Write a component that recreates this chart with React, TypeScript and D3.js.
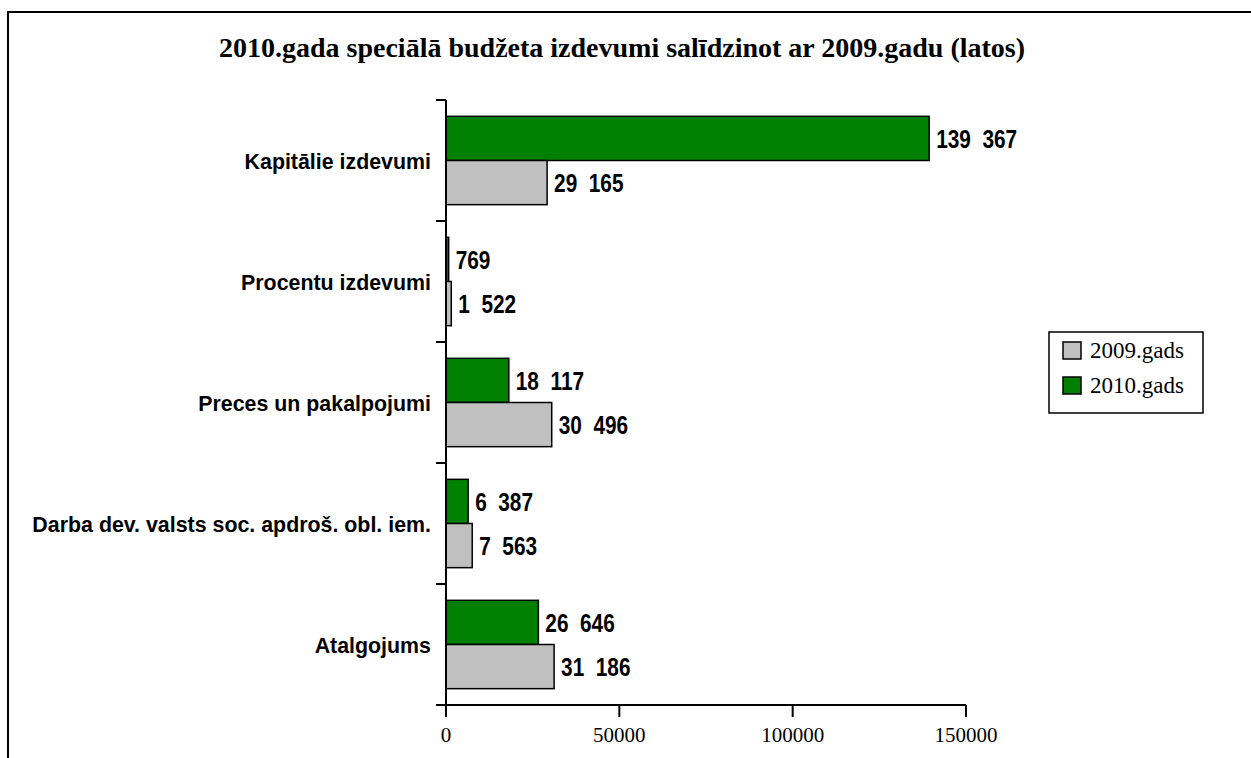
import React, { useEffect, useRef } from "react";
import * as d3 from "d3";

const categories = [
  "Kapitālie izdevumi",
  "Procentu izdevumi",
  "Preces un pakalpojumi",
  "Darba dev. valsts soc. apdroš. obl. iem.",
  "Atalgojums",
];
const series = ["2010.gads", "2009.gads"];
const values2010 = [139367, 769, 18117, 6387, 26646];
const values2009 = [29165, 1522, 30496, 7563, 31186];
const xTicks = [0, 50000, 100000, 150000];
const legendOrder = ["2009.gads", "2010.gads"];
const colors: Record<string, string> = { "2009.gads": "#c0c0c0", "2010.gads": "#008000" };

const W = 1251;
const H = 758;
const serif = "'Liberation Serif', 'Times New Roman', serif";
const sans = "'Liberation Sans', Arial, sans-serif";

export default function App() {
  const svgRef = useRef<SVGSVGElement>(null);

  useEffect(() => {
    const svg = d3.select(svgRef.current);
    svg.selectAll("*").remove();

    // frame
    svg.append("rect")
      .attr("x", 8).attr("y", 12).attr("width", 1300).attr("height", 800)
      .attr("fill", "white").attr("stroke", "black").attr("stroke-width", 2);

    svg.append("text")
      .attr("x", 622).attr("y", 57)
      .attr("text-anchor", "middle")
      .style("font-family", serif)
      .style("font-weight", "bold").style("font-size", "28px")
      .text("2010.gada speciālā budžeta izdevumi salīdzinot ar 2009.gadu (latos)");

    const x = d3.scaleLinear().domain([0, 150000]).range([446, 966]);
    const y = d3.scaleBand().domain(categories).range([100, 705]).paddingInner(0.27).paddingOuter(0.135);
    const ySub = d3.scaleBand().domain(series).range([0, y.bandwidth()]);

    const rows = categories.map((c, i) => ({
      cat: c,
      items: [
        { s: "2010.gads", v: values2010[i] },
        { s: "2009.gads", v: values2009[i] },
      ],
    }));

    const fmt = (v: number) => d3.format(",")(v).replace(",", "  ");

    const g = svg.selectAll(".grp").data(rows).join("g")
      .attr("transform", (d) => `translate(0,${y(d.cat)})`);

    g.selectAll("rect").data((d) => d.items).join("rect")
      .attr("x", x(0))
      .attr("y", (d) => ySub(d.s)!)
      .attr("width", (d) => x(d.v) - x(0))
      .attr("height", ySub.bandwidth())
      .attr("fill", (d) => colors[d.s])
      .attr("stroke", "black").attr("stroke-width", 1.5);

    // value labels: condensed bold (narrow font emulated by horizontal scale)
    g.selectAll("text.val").data((d) => d.items).join("text")
      .attr("class", "val")
      .attr("transform", (d) => `translate(${x(d.v) + 7},${ySub(d.s)! + ySub.bandwidth() / 2}) scale(0.8,1)`)
      .attr("dy", "0.36em")
      .style("white-space", "pre")
      .style("font-family", sans)
      .style("font-weight", "bold").style("font-size", "26px")
      .text((d) => fmt(d.v));

    // y axis
    const yAxis = svg.append("g");
    yAxis.append("line").attr("x1", 446).attr("x2", 446).attr("y1", 100).attr("y2", 717)
      .attr("stroke", "black").attr("stroke-width", 2);
    const bounds = categories.map((c) => y(c)! - y.step() * y.paddingInner() / 2);
    yAxis.selectAll("line.tk").data(bounds).join("line")
      .attr("class", "tk")
      .attr("x1", 436).attr("x2", 446)
      .attr("y1", (d) => d).attr("y2", (d) => d)
      .attr("stroke", "black").attr("stroke-width", 2);
    yAxis.selectAll("text").data(categories).join("text")
      .attr("transform", (d) => `translate(431,${y(d)! + y.bandwidth() / 2}) scale(0.95,1)`)
      .attr("dy", "0.36em")
      .attr("text-anchor", "end")
      .style("font-family", sans)
      .style("font-weight", "bold").style("font-size", "22.5px")
      .text((d) => d);

    // x axis
    const xAxis = svg.append("g");
    xAxis.append("line").attr("x1", 436).attr("x2", 966).attr("y1", 705).attr("y2", 705)
      .attr("stroke", "black").attr("stroke-width", 2);
    xAxis.selectAll("line.tk").data(xTicks).join("line")
      .attr("class", "tk")
      .attr("x1", (d) => x(d)).attr("x2", (d) => x(d))
      .attr("y1", 705).attr("y2", 717)
      .attr("stroke", "black").attr("stroke-width", 2);
    xAxis.selectAll("text").data(xTicks).join("text")
      .attr("x", (d) => x(d)).attr("y", 742)
      .attr("text-anchor", "middle")
      .style("font-family", serif)
      .style("font-size", "21px")
      .text((d) => String(d));

    // legend
    const lg = svg.append("g");
    lg.append("rect").attr("x", 1049).attr("y", 332).attr("width", 154).attr("height", 81)
      .attr("fill", "white").attr("stroke", "black").attr("stroke-width", 1.5);
    const li = lg.selectAll("g").data(legendOrder).join("g")
      .attr("transform", (_, i) => `translate(1063,${342 + i * 35})`);
    li.append("rect").attr("width", 18).attr("height", 17)
      .attr("fill", (d) => colors[d]).attr("stroke", "black").attr("stroke-width", 1.5);
    li.append("text").attr("x", 27).attr("y", 16)
      .style("font-family", serif)
      .style("font-size", "23px")
      .text((d) => d);
  }, []);

  return (
    <svg ref={svgRef} width={W} height={H}
      style={{ position: "absolute", left: 0, top: 0, background: "white" }} />
  );
}
